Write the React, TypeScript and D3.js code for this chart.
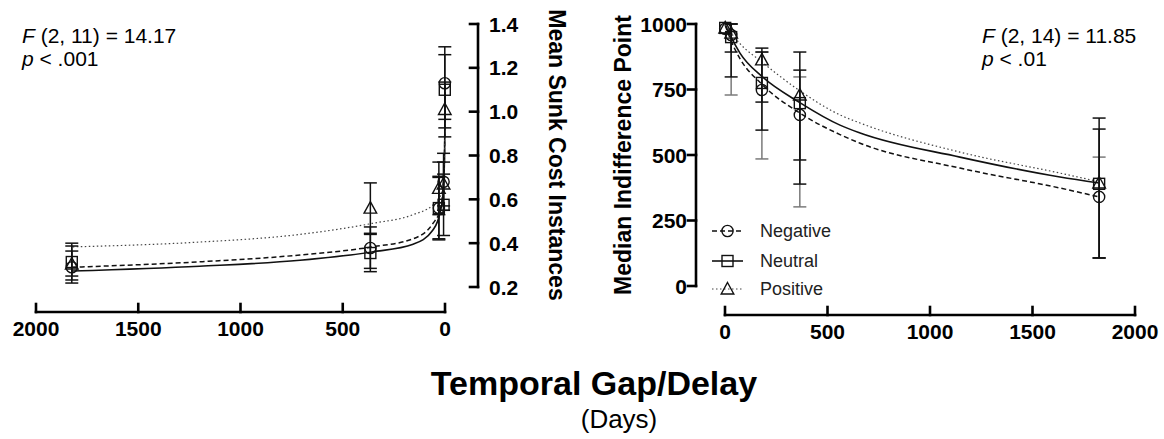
import React from 'react';
import * as d3 from 'd3';

const FONT = "'Liberation Sans', Arial, Helvetica, sans-serif";

// ---------- Left panel: Mean Sunk Cost Instances vs Temporal Gap ----------
const leftDays = [1, 7, 30, 365, 1825];
const leftNegative = [1.13, 0.68, 0.56, 0.378, 0.29];
const leftNegativeLo = [0.965, 0.55, 0.42, 0.285, 0.232];
const leftNegativeHi = [1.296, 0.81, 0.7, 0.474, 0.364];
const leftNeutral = [1.1, 0.575, 0.56, 0.355, 0.314];
const leftNeutralLo = [0.926, 0.435, 0.415, 0.27, 0.218];
const leftNeutralHi = [1.26, 0.715, 0.705, 0.44, 0.4];
const leftPositive = [1.01, 0.67, 0.65, 0.56, 0.305];
const leftPositiveLo = [0.885, 0.57, 0.53, 0.445, 0.25];
const leftPositiveHi = [1.135, 0.77, 0.77, 0.675, 0.387];

const leftFitDays = [0.3, 1, 4, 10, 24, 59, 156, 357, 709, 1200, 1825];
const leftFitNegative = [1.12, 0.92, 0.75, 0.645, 0.55, 0.49, 0.42, 0.383, 0.346, 0.315, 0.29];
const leftFitNeutral = [1.09, 0.9, 0.73, 0.62, 0.54, 0.46, 0.395, 0.36, 0.322, 0.295, 0.273];
const leftFitPositive = [1.0, 0.86, 0.74, 0.67, 0.61, 0.574, 0.53, 0.49, 0.44, 0.405, 0.383];

const leftXTicks = [2000, 1500, 1000, 500, 0];
const leftYTicks = [0.2, 0.4, 0.6, 0.8, 1.0, 1.2, 1.4];

// ---------- Right panel: Median Indifference Point vs Delay ----------
const rightDays = [1, 30, 180, 365, 1825];
const rightNegative = [982, 958, 748, 653, 340];
const rightNegativeLo = [982, 729, 485, 302, 107];
const rightNegativeHi = [982, 1000, 893, 798, 492];
const rightNeutral = [985, 950, 775, 698, 390];
const rightNeutralLo = [985, 798, 595, 389, 107];
const rightNeutralHi = [985, 1000, 893, 824, 599];
const rightPositive = [985, 965, 863, 729, 393];
const rightPositiveLo = [985, 893, 702, 481, 107];
const rightPositiveHi = [985, 1000, 908, 893, 641];

const rightFitDays = [1, 30, 73, 180, 365, 561, 659, 1146, 1634, 1825];
const rightFitNegative = [995, 935, 868, 770, 660, 578, 545, 450, 374, 340];
const rightFitNeutral = [998, 950, 889, 800, 700, 614, 584, 492, 416, 393];
const rightFitPositive = [998, 965, 925, 855, 745, 653, 622, 511, 431, 398];

const rightXTicks = [0, 500, 1000, 1500, 2000];
const rightYTicks = [0, 250, 500, 750, 1000];

const seriesNames = ['Negative', 'Neutral', 'Positive'];
const seriesMarkers = ['circle', 'square', 'triangle'];

const lineStyle: Record<string, { dash: string; width: number; color: string }> = {
  Negative: { dash: '5,3', width: 1.5, color: '#111' },
  Neutral: { dash: '', width: 1.6, color: '#111' },
  Positive: { dash: '1.5,2.5', width: 1.2, color: '#444' },
};

function Marker({ kind, x, y }: { kind: string; x: number; y: number }) {
  const common = { fill: 'none', stroke: '#111', strokeWidth: 1.4 };
  if (kind === 'circle') return <circle cx={x} cy={y} r={5.6} {...common} />;
  if (kind === 'square') return <rect x={x - 5.5} y={y - 5.5} width={11} height={11} {...common} />;
  return <path d={`M${x},${y - 6.5} L${x + 6.3},${y + 5} L${x - 6.3},${y + 5} Z`} {...common} />;
}

type Series = {
  name: string;
  marker: string;
  vals: number[];
  lo: number[];
  hi: number[];
  fit: number[];
  barColor: string;
};

function Panel({
  xs, ys, days, fitDays, series,
}: {
  xs: d3.ScaleLinear<number, number>;
  ys: d3.ScaleLinear<number, number>;
  days: number[];
  fitDays: number[];
  series: Series[];
}) {
  return (
    <g>
      {series.map((s) => {
        const st = lineStyle[s.name];
        const line = d3
          .line<number>()
          .x((_, i) => xs(fitDays[i]))
          .y((v) => ys(v))
          .curve(d3.curveMonotoneX);
        return (
          <path
            key={'fit' + s.name}
            d={line(s.fit) || ''}
            fill="none"
            stroke={st.color}
            strokeWidth={st.width}
            strokeDasharray={st.dash || undefined}
          />
        );
      })}
      {series.map((s) => (
        <g key={'eb' + s.name}>
          {days.map((d, i) => {
            if (s.lo[i] === s.hi[i]) return null;
            const x = xs(d);
            const y0 = ys(s.lo[i]);
            const y1 = ys(s.hi[i]);
            return (
              <g key={i} stroke={s.barColor} strokeWidth={1.5}>
                <line x1={x} x2={x} y1={y0} y2={y1} />
                <line x1={x - 6.5} x2={x + 6.5} y1={y0} y2={y0} />
                <line x1={x - 6.5} x2={x + 6.5} y1={y1} y2={y1} />
              </g>
            );
          })}
        </g>
      ))}
      {series.map((s) => (
        <g key={'mk' + s.name}>
          {days.map((d, i) => (
            <Marker key={i} kind={s.marker} x={xs(d)} y={ys(s.vals[i])} />
          ))}
        </g>
      ))}
    </g>
  );
}

export default function App() {
  const W = 1164;
  const H = 439;

  const lx = d3.scaleLinear().domain([2000, 0]).range([36, 445]);
  const ly = d3.scaleLinear().domain([0.2, 1.4]).range([287, 24]);
  const rx = d3.scaleLinear().domain([0, 2000]).range([725, 1135]);
  const ry = d3.scaleLinear().domain([0, 1000]).range([286, 24]);

  const leftAxisY = 312;
  const leftYAxisX = 478;
  const rightAxisY = 315;
  const rightYAxisX = 696;

  const leftSeries: Series[] = [
    { name: 'Negative', marker: 'circle', vals: leftNegative, lo: leftNegativeLo, hi: leftNegativeHi, fit: leftFitNegative, barColor: '#111' },
    { name: 'Neutral', marker: 'square', vals: leftNeutral, lo: leftNeutralLo, hi: leftNeutralHi, fit: leftFitNeutral, barColor: '#111' },
    { name: 'Positive', marker: 'triangle', vals: leftPositive, lo: leftPositiveLo, hi: leftPositiveHi, fit: leftFitPositive, barColor: '#111' },
  ];
  const rightSeries: Series[] = [
    { name: 'Negative', marker: 'circle', vals: rightNegative, lo: rightNegativeLo, hi: rightNegativeHi, fit: rightFitNegative, barColor: '#7a7a7a' },
    { name: 'Neutral', marker: 'square', vals: rightNeutral, lo: rightNeutralLo, hi: rightNeutralHi, fit: rightFitNeutral, barColor: '#111' },
    { name: 'Positive', marker: 'triangle', vals: rightPositive, lo: rightPositiveLo, hi: rightPositiveHi, fit: rightFitPositive, barColor: '#111' },
  ];

  const axisW = 2.6;
  const tickLen = 8;
  const tickFont = 21;

  const legendRows = [231, 261, 289];

  return (
    <svg
      width={W}
      height={H}
      viewBox={`0 0 ${W} ${H}`}
      style={{ position: 'absolute', left: 0, top: 0, display: 'block', background: '#fff' }}
      fontFamily={FONT}
    >
      <rect x={0} y={0} width={W} height={H} fill="#fff" />

      {/* ---- Left panel ---- */}
      <Panel xs={lx} ys={ly} days={leftDays} fitDays={leftFitDays} series={leftSeries} />

      {/* left x axis */}
      <g stroke="#000" strokeWidth={axisW} strokeLinecap="square">
        <line x1={lx(2000)} x2={lx(0)} y1={leftAxisY} y2={leftAxisY} />
        {leftXTicks.map((t) => (
          <line key={t} x1={lx(t)} x2={lx(t)} y1={leftAxisY} y2={leftAxisY - tickLen} />
        ))}
      </g>
      {leftXTicks.map((t) => (
        <text key={t} x={lx(t)} y={leftAxisY + 24} textAnchor="middle" fontSize={tickFont} fontWeight="bold">
          {t}
        </text>
      ))}

      {/* left y axis (on right side) */}
      <g stroke="#000" strokeWidth={axisW} strokeLinecap="square">
        <line x1={leftYAxisX} x2={leftYAxisX} y1={ly(1.4)} y2={ly(0.2)} />
        {leftYTicks.map((t) => (
          <line key={t} x1={leftYAxisX} x2={leftYAxisX - tickLen} y1={ly(t)} y2={ly(t)} />
        ))}
      </g>
      {leftYTicks.map((t) => (
        <text key={t} x={leftYAxisX + 11} y={ly(t)} dy="0.36em" fontSize={tickFont} fontWeight="bold">
          {t.toFixed(1)}
        </text>
      ))}
      <text
        transform={`translate(557,155) rotate(90)`}
        dy="0.35em"
        textAnchor="middle"
        fontSize={23}
        fontWeight="bold"
      >
        Mean Sunk Cost Instances
      </text>

      <text x={22} y={43} fontSize={21}>
        <tspan fontStyle="italic">F</tspan> (2, 11) = 14.17
      </text>
      <text x={22} y={66} fontSize={21}>
        <tspan fontStyle="italic">p</tspan> &lt; .001
      </text>

      {/* ---- Right panel ---- */}
      <Panel xs={rx} ys={ry} days={rightDays} fitDays={rightFitDays} series={rightSeries} />

      <g stroke="#000" strokeWidth={axisW} strokeLinecap="square">
        <line x1={rx(0)} x2={rx(2000)} y1={rightAxisY} y2={rightAxisY} />
        {rightXTicks.map((t) => (
          <line key={t} x1={rx(t)} x2={rx(t)} y1={rightAxisY} y2={rightAxisY - tickLen} />
        ))}
      </g>
      {rightXTicks.map((t) => (
        <text key={t} x={rx(t)} y={rightAxisY + 24} textAnchor="middle" fontSize={tickFont} fontWeight="bold">
          {t}
        </text>
      ))}

      <g stroke="#000" strokeWidth={axisW} strokeLinecap="square">
        <line x1={rightYAxisX} x2={rightYAxisX} y1={ry(1000)} y2={ry(0)} />
        {rightYTicks.map((t) => (
          <line key={t} x1={rightYAxisX} x2={rightYAxisX - tickLen} y1={ry(t)} y2={ry(t)} />
        ))}
      </g>
      {rightYTicks.map((t) => (
        <text key={t} x={rightYAxisX - 9} y={ry(t)} dy="0.36em" textAnchor="end" fontSize={tickFont} fontWeight="bold">
          {t}
        </text>
      ))}
      <text
        transform={`translate(623,155) rotate(-90)`}
        dy="0.35em"
        textAnchor="middle"
        fontSize={23}
        fontWeight="bold"
      >
        Median Indifference Point
      </text>

      <text x={982} y={43} fontSize={21}>
        <tspan fontStyle="italic">F</tspan> (2, 14) = 11.85
      </text>
      <text x={982} y={66} fontSize={21}>
        <tspan fontStyle="italic">p</tspan> &lt; .01
      </text>

      {/* legend */}
      {seriesNames.map((n, i) => {
        const st = lineStyle[n];
        const y = legendRows[i];
        return (
          <g key={n}>
            <line
              x1={712}
              x2={743}
              y1={y}
              y2={y}
              stroke={st.color}
              strokeWidth={st.width}
              strokeDasharray={st.dash || undefined}
            />
            <Marker kind={seriesMarkers[i]} x={727.5} y={y} />
            <text x={760} y={y} dy="0.36em" fontSize={18} fill="#222">
              {n}
            </text>
          </g>
        );
      })}

      {/* shared x title */}
      <text x={594} y={395} textAnchor="middle" fontSize={34} fontWeight="bold">
        Temporal Gap/Delay
      </text>
      <text x={619} y={428} textAnchor="middle" fontSize={26}>
        (Days)
      </text>
    </svg>
  );
}
